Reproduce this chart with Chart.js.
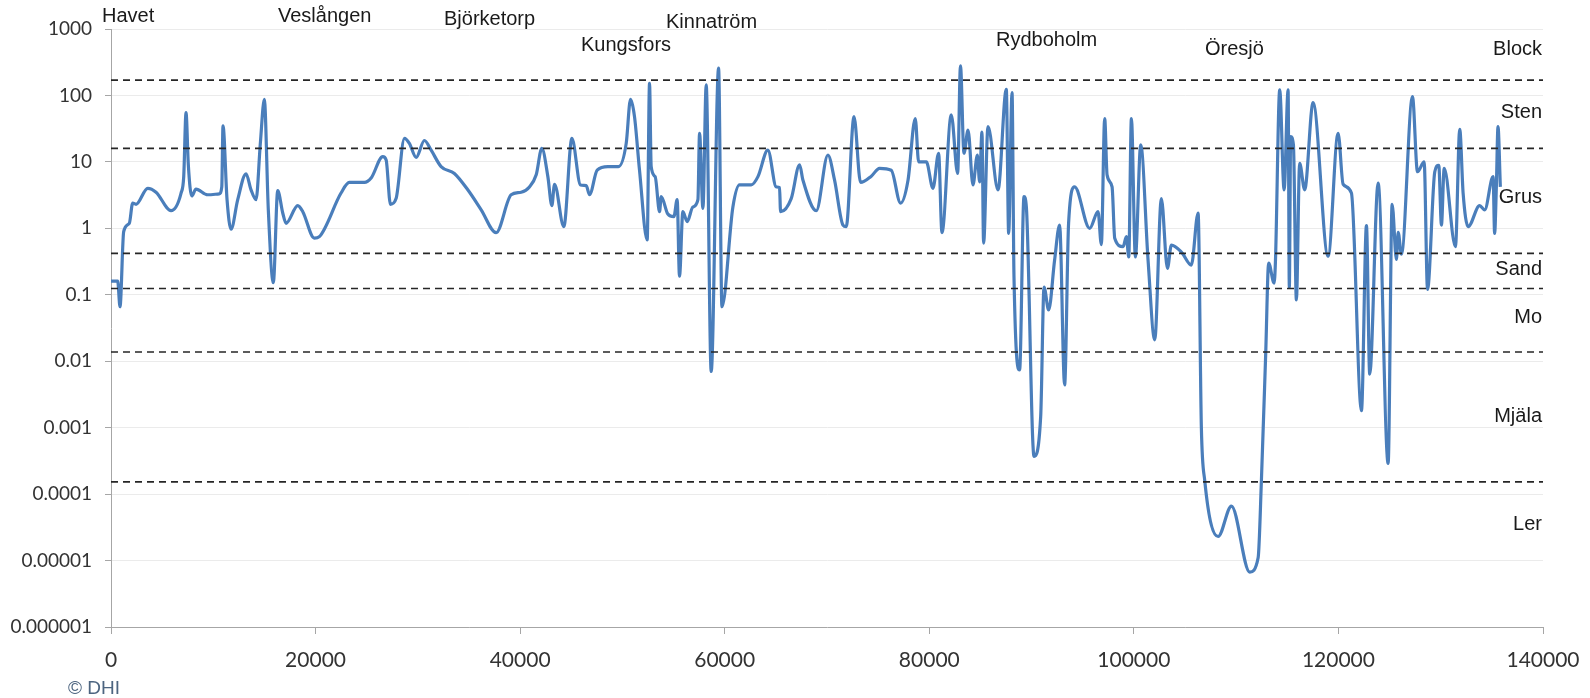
<!DOCTYPE html>
<html>
<head>
<meta charset="utf-8">
<title>Kornstorlek längs ån</title>
<script src="https://cdn.jsdelivr.net/npm/chart.js"></script>
<style>
  html, body { margin: 0; padding: 0; background: #fff; }
</style>
</head>
<body>
<canvas id="grainChart" width="1590" height="698"></canvas>
<script>
'use strict'

// distance along the river (m) and grain size (mm)
const distance = [
  0, 655, 880, 1240, 1790, 2120, 2445, 3590, 4400, 5870,
  6850, 7110, 7335, 7560, 7890, 8310, 9450, 10590, 10830, 10950,
  11345, 11735, 12390, 13200, 13690, 14180, 14600, 14990, 15380, 15870,
  16300, 16790, 17115, 18260, 18750, 19880, 20370, 22490, 23300, 24770,
  25430, 26570, 26900, 27320, 27870, 28690, 29170, 29830, 30640, 31300,
  32270, 33570, 34880, 36190, 37650, 39120, 40100, 40910, 41570, 42120,
  42710, 43100, 43360, 44270, 45060, 45900, 46460, 46780, 47530, 48580,
  49610, 50370, 50790, 51180, 51670, 52420, 52650, 52810, 53200, 53630,
  53790, 54440, 55030, 55350, 55580, 55910, 56330, 56890, 57380, 57540,
  57870, 58190, 58680, 59400, 59730, 60800, 61450, 62590, 63250, 64220,
  65040, 65360, 65460, 66500, 67320, 67650, 68950, 70090, 70740, 71560,
  71880, 72640, 73280, 74330, 75140, 76280, 77190, 77920, 78630, 78960,
  79710, 80360, 80910, 81240, 82150, 82770, 83050, 83390, 83790, 84270,
  84700, 84920, 85150, 85310, 85740, 86720, 87530, 87760, 88090, 88280,
  88830, 89260, 89490, 90240, 90890, 91220, 91670, 92250, 92740, 93230,
  93620, 94210, 95680, 96500, 96820, 97150, 97380, 97870, 98130, 98950,
  99270, 99500, 99760, 100150, 100670, 101390, 102040, 102690, 103280, 103670,
  104650, 105620, 106280, 106600, 106930, 108240, 109540, 111330, 112150, 112470,
  112890, 113180, 113710, 113840, 114260, 114690, 115080, 115200, 115330, 115600,
  115890, 116210, 116700, 117520, 118990, 119970, 120460, 121270, 122250, 122740,
  123060, 123880, 124860, 125250, 125670, 125840, 126160, 127240, 127730, 128380,
  128710, 129420, 129810, 130070, 130340, 131440, 131860, 132190, 132680, 133810,
  134300, 135120, 135270, 135440, 135600, 135830
]

const grainSize = [
  0.16, 0.16, 0.066, 0.89, 1.19, 2.4, 2.3, 4.0, 3.5, 1.85,
  3.4, 6, 55, 9, 3.07, 3.9, 3.2, 3.3, 4.2, 35,
  2.7, 0.97, 2.7, 6.6, 3.8, 2.7, 19, 87, 1.9, 0.152,
  3.7, 1.7, 1.19, 2.2, 1.78, 0.71, 0.75, 3.4, 4.9, 4.9,
  5.7, 12, 10.7, 2.3, 2.8, 22.6, 19, 11.7, 21, 15,
  8.5, 6.7, 3.8, 1.9, 0.86, 3.2, 3.5, 4.2, 6.4, 16,
  6, 2.2, 4.6, 1.06, 22.6, 4.5, 4.4, 3.2, 7.5, 8.5,
  8.5, 19, 87, 48, 7.5, 0.67, 152, 8.5, 6, 1.78,
  3, 1.64, 1.5, 2.7, 0.19, 1.78, 1.26, 2.1, 2.7, 27,
  2.0, 144, 0.007, 257, 0.066, 2.1, 4.5, 4.5, 6, 15,
  4.2, 4.1, 1.78, 2.8, 9, 5.3, 1.84, 12.7, 5.3, 1.12,
  1.06, 48, 4.9, 6.1, 8, 7.5, 2.4, 5.3, 45, 10,
  10, 4, 13.5, 0.86, 51, 6.7, 280, 13.5, 30, 4.5,
  12.7, 5, 28, 0.6, 34, 3.8, 124, 0.84, 110, 0.19,
  0.0074, 3, 2.1, 0.00037, 0.00147, 0.13, 0.059, 0.33, 1.12, 0.0044,
  1.2, 4.2, 1, 1.78, 0.57, 45, 6.4, 4.2, 0.71, 0.53,
  0.75, 0.37, 45, 0.37, 18, 0.33, 0.021, 2.8, 0.25, 0.56,
  0.44, 0.28, 1.7, 0.001, 0.00016, 0.000023, 0.000066, 0.0000067, 0.000011, 0.00016,
  0.013, 0.3, 0.15, 0.31, 121, 3.8, 121, 0.13, 24, 18,
  0.084, 9.5, 3.8, 78, 0.38, 27, 4.6, 3.4, 0.0018, 1.1,
  0.0064, 4.8, 0.00029, 2.3, 0.34, 0.87, 0.41, 96, 7.1, 10,
  0.12, 7.1, 8.9, 1.12, 8, 0.53, 31, 3.4, 1.06, 2.2,
  1.9, 6, 0.84, 4.2, 34, 4.2
]

// class boundaries (dashed lines)
const boundaries = [170, 16, 0.42, 0.124, 0.0138, 0.000153]

const yTickValues = [1e-6, 1e-5, 1e-4, 1e-3, 1e-2, 1e-1, 1, 10, 100, 1000]
const yTickLabels = ['0.000001', '0.00001', '0.0001', '0.001', '0.01', '0.1', '1', '10', '100', '1000']
const xTickValues = [0, 20000, 40000, 60000, 80000, 100000, 120000, 140000]

const places = ['Havet', 'Veslången', 'Björketorp', 'Kungsfors', 'Kinnatröm', 'Rydboholm', 'Öresjö']
const classes = ['Block', 'Sten', 'Grus', 'Sand', 'Mo', 'Mjäla', 'Ler']

// text placement (px)
const placePos = [[102, 16], [278, 16], [444, 19], [581, 45], [666, 22], [996, 40], [1205, 49]]
const classPos = [49, 112, 197, 269, 317, 416, 524]

const textPlugin = {
  id: 'texts',
  afterDraw(chart) {
    const ctx = chart.ctx
    ctx.save()
    ctx.font = '20px "Liberation Sans", Arial, sans-serif'
    ctx.fillStyle = '#1a1a1a'
    ctx.textBaseline = 'middle'
    ctx.textAlign = 'left'
    places.forEach((name, i) => ctx.fillText(name, placePos[i][0], placePos[i][1]))
    ctx.textAlign = 'right'
    classes.forEach((name, i) => ctx.fillText(name, 1542, classPos[i]))
    ctx.textAlign = 'left'
    ctx.font = '19px "Liberation Sans", Arial, sans-serif'
    ctx.fillStyle = '#4d6580'
    ctx.fillText('© DHI', 68, 689)
    ctx.restore()
  }
}

const datasets = boundaries.map(v => ({
  data: [{ x: 0, y: v }, { x: 140000, y: v }],
  borderColor: '#262626',
  borderWidth: 1.6,
  borderDash: [7, 5],
  pointRadius: 0,
  order: 0
}))

datasets.push({
  data: distance.map((d, i) => ({ x: d, y: grainSize[i] })),
  borderColor: '#4a7ebb',
  borderWidth: 3.2,
  pointRadius: 0,
  cubicInterpolationMode: 'monotone',
  order: 1
})

new Chart(document.getElementById('grainChart'), {
  type: 'line',
  data: { datasets },
  options: {
    responsive: false,
    animation: false,
    devicePixelRatio: 1,
    layout: { padding: { top: 29, right: 47, bottom: 0, left: 0 } },
    plugins: { legend: { display: false }, tooltip: { enabled: false } },
    scales: {
      x: {
        type: 'linear',
        min: 0,
        max: 140000,
        afterBuildTicks: s => { s.ticks = xTickValues.map(v => ({ value: v })) },
        afterFit: s => {
          s.height = 71
          s.paddingLeft = 0
          s.paddingRight = 0
        },
        border: { color: '#a6a6a6' },
        grid: { drawOnChartArea: false, tickColor: '#a6a6a6', tickLength: 7 },
        ticks: {
          padding: 14,
          maxRotation: 0,
          autoSkip: false,
          color: '#333',
          font: { family: 'Lato', size: 21 },
          callback: v => String(v)
        }
      },
      y: {
        type: 'logarithmic',
        min: 1e-6,
        max: 1000,
        afterBuildTicks: s => { s.ticks = yTickValues.map(v => ({ value: v })) },
        afterFit: s => { s.width = 111 },
        border: { color: '#a6a6a6' },
        grid: { color: '#ebebeb', tickColor: '#a6a6a6', tickLength: 6 },
        ticks: {
          padding: 13,
          color: '#333',
          font: { family: 'Lato', size: 19 },
          callback: v => yTickLabels[yTickValues.indexOf(v)]
        }
      }
    }
  },
  plugins: [textPlugin]
})
</script>
</body>
</html>
